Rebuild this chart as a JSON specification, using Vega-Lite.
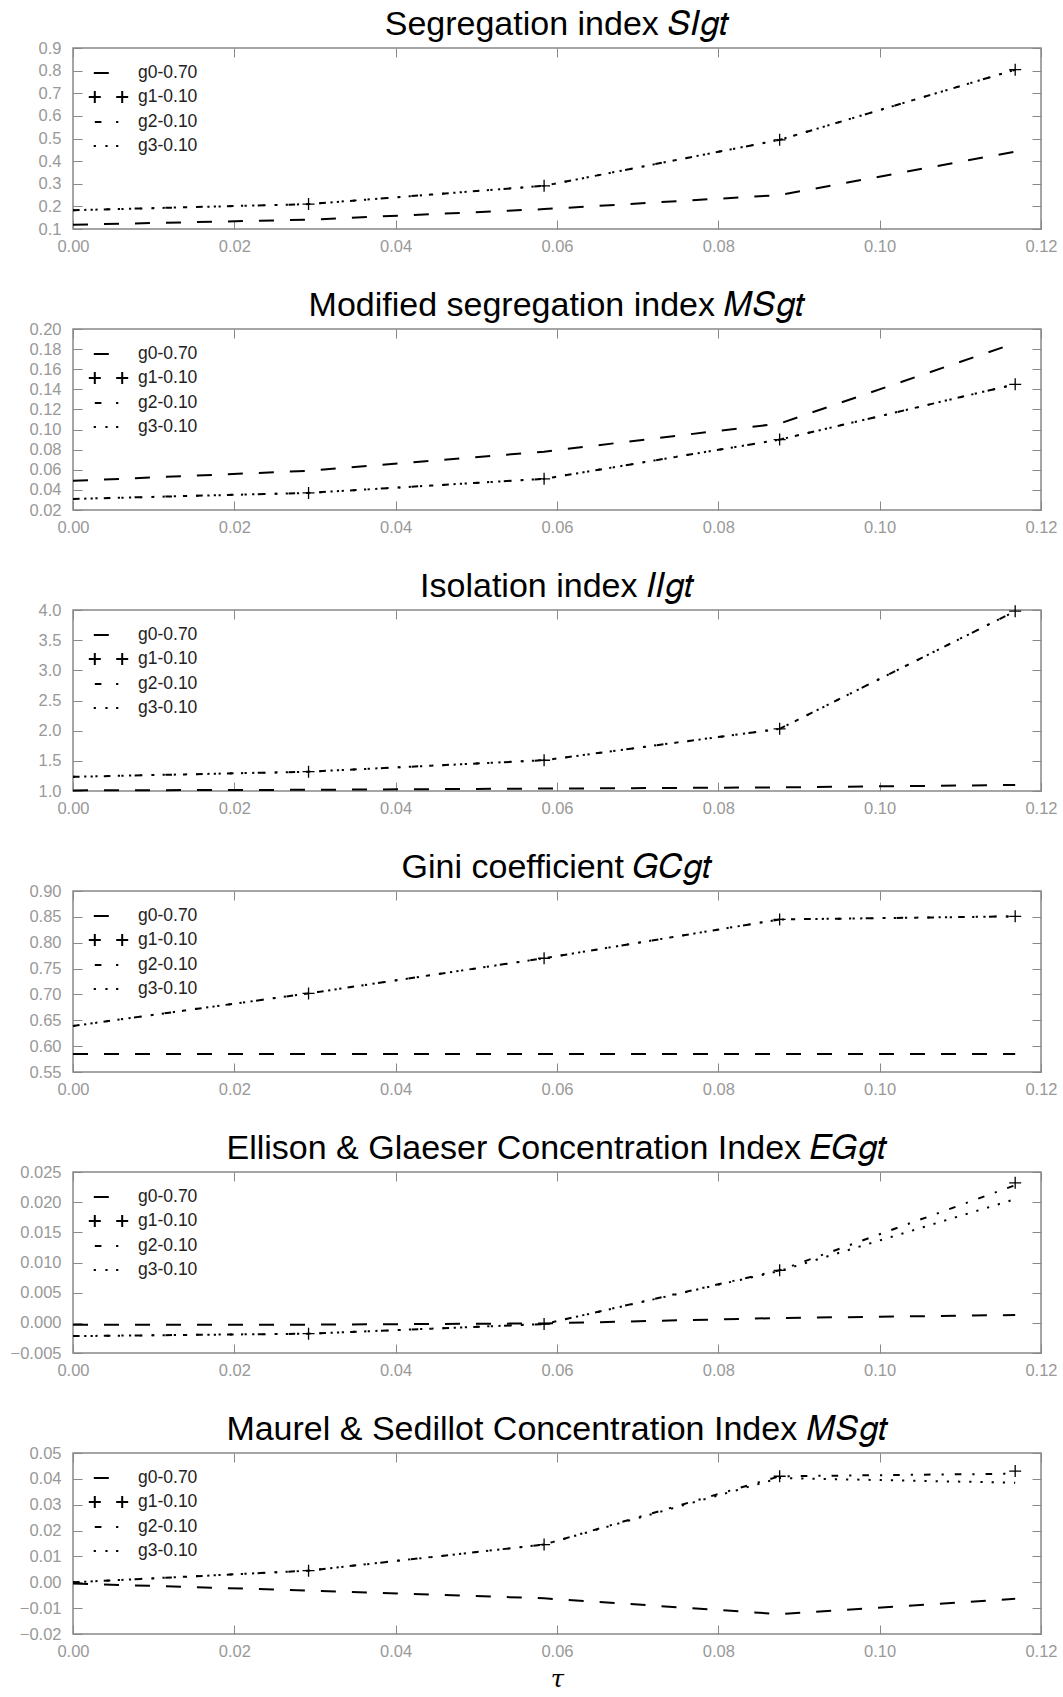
{
  "$schema": "https://vega.github.io/schema/vega-lite/v6.json",
  "padding": {"left": 9, "top": 7, "right": 5, "bottom": 2},
  "spacing": 32,
  "resolve": {"scale": {"strokeDash": "independent"}},
  "datasets": {
    "d": [
      {"p": "SI", "s": "g0-0.70", "t": 0, "v": 0.119}, {"p": "SI", "s": "g0-0.70", "t": 0.0292, "v": 0.141}, {"p": "SI", "s": "g0-0.70", "t": 0.0584, "v": 0.188}, {"p": "SI", "s": "g0-0.70", "t": 0.0876, "v": 0.25}, {"p": "SI", "s": "g0-0.70", "t": 0.1168, "v": 0.442},
      {"p": "SI", "s": "g1-0.10", "t": 0.0292, "v": 0.21}, {"p": "SI", "s": "g1-0.10", "t": 0.0584, "v": 0.291}, {"p": "SI", "s": "g1-0.10", "t": 0.0876, "v": 0.494}, {"p": "SI", "s": "g1-0.10", "t": 0.1168, "v": 0.804},
      {"p": "SI", "s": "g2-0.10", "t": 0, "v": 0.183}, {"p": "SI", "s": "g2-0.10", "t": 0.0292, "v": 0.21}, {"p": "SI", "s": "g2-0.10", "t": 0.0584, "v": 0.291}, {"p": "SI", "s": "g2-0.10", "t": 0.0876, "v": 0.494}, {"p": "SI", "s": "g2-0.10", "t": 0.1168, "v": 0.804},
      {"p": "SI", "s": "g3-0.10", "t": 0, "v": 0.183}, {"p": "SI", "s": "g3-0.10", "t": 0.0292, "v": 0.21}, {"p": "SI", "s": "g3-0.10", "t": 0.0584, "v": 0.291}, {"p": "SI", "s": "g3-0.10", "t": 0.0876, "v": 0.494}, {"p": "SI", "s": "g3-0.10", "t": 0.1168, "v": 0.804},

      {"p": "MS", "s": "g0-0.70", "t": 0, "v": 0.049}, {"p": "MS", "s": "g0-0.70", "t": 0.0292, "v": 0.059}, {"p": "MS", "s": "g0-0.70", "t": 0.0584, "v": 0.078}, {"p": "MS", "s": "g0-0.70", "t": 0.0876, "v": 0.106}, {"p": "MS", "s": "g0-0.70", "t": 0.1168, "v": 0.186},
      {"p": "MS", "s": "g1-0.10", "t": 0.0292, "v": 0.037}, {"p": "MS", "s": "g1-0.10", "t": 0.0584, "v": 0.051}, {"p": "MS", "s": "g1-0.10", "t": 0.0876, "v": 0.09}, {"p": "MS", "s": "g1-0.10", "t": 0.1168, "v": 0.145},
      {"p": "MS", "s": "g2-0.10", "t": 0, "v": 0.031}, {"p": "MS", "s": "g2-0.10", "t": 0.0292, "v": 0.037}, {"p": "MS", "s": "g2-0.10", "t": 0.0584, "v": 0.051}, {"p": "MS", "s": "g2-0.10", "t": 0.0876, "v": 0.09}, {"p": "MS", "s": "g2-0.10", "t": 0.1168, "v": 0.145},
      {"p": "MS", "s": "g3-0.10", "t": 0, "v": 0.031}, {"p": "MS", "s": "g3-0.10", "t": 0.0292, "v": 0.037}, {"p": "MS", "s": "g3-0.10", "t": 0.0584, "v": 0.051}, {"p": "MS", "s": "g3-0.10", "t": 0.0876, "v": 0.09}, {"p": "MS", "s": "g3-0.10", "t": 0.1168, "v": 0.145},

      {"p": "II", "s": "g0-0.70", "t": 0, "v": 1.01}, {"p": "II", "s": "g0-0.70", "t": 0.0292, "v": 1.02}, {"p": "II", "s": "g0-0.70", "t": 0.0584, "v": 1.04}, {"p": "II", "s": "g0-0.70", "t": 0.0876, "v": 1.06}, {"p": "II", "s": "g0-0.70", "t": 0.1168, "v": 1.1},
      {"p": "II", "s": "g1-0.10", "t": 0.0292, "v": 1.32}, {"p": "II", "s": "g1-0.10", "t": 0.0584, "v": 1.51}, {"p": "II", "s": "g1-0.10", "t": 0.0876, "v": 2.03}, {"p": "II", "s": "g1-0.10", "t": 0.1168, "v": 3.98},
      {"p": "II", "s": "g2-0.10", "t": 0, "v": 1.235}, {"p": "II", "s": "g2-0.10", "t": 0.0292, "v": 1.32}, {"p": "II", "s": "g2-0.10", "t": 0.0584, "v": 1.51}, {"p": "II", "s": "g2-0.10", "t": 0.0876, "v": 2.03}, {"p": "II", "s": "g2-0.10", "t": 0.1168, "v": 3.98},
      {"p": "II", "s": "g3-0.10", "t": 0, "v": 1.235}, {"p": "II", "s": "g3-0.10", "t": 0.0292, "v": 1.32}, {"p": "II", "s": "g3-0.10", "t": 0.0584, "v": 1.51}, {"p": "II", "s": "g3-0.10", "t": 0.0876, "v": 2.03}, {"p": "II", "s": "g3-0.10", "t": 0.1168, "v": 3.98},

      {"p": "GC", "s": "g0-0.70", "t": 0, "v": 0.585}, {"p": "GC", "s": "g0-0.70", "t": 0.0292, "v": 0.585}, {"p": "GC", "s": "g0-0.70", "t": 0.0584, "v": 0.585}, {"p": "GC", "s": "g0-0.70", "t": 0.0876, "v": 0.585}, {"p": "GC", "s": "g0-0.70", "t": 0.1168, "v": 0.585},
      {"p": "GC", "s": "g1-0.10", "t": 0.0292, "v": 0.702}, {"p": "GC", "s": "g1-0.10", "t": 0.0584, "v": 0.77}, {"p": "GC", "s": "g1-0.10", "t": 0.0876, "v": 0.845}, {"p": "GC", "s": "g1-0.10", "t": 0.1168, "v": 0.851},
      {"p": "GC", "s": "g2-0.10", "t": 0, "v": 0.639}, {"p": "GC", "s": "g2-0.10", "t": 0.0292, "v": 0.702}, {"p": "GC", "s": "g2-0.10", "t": 0.0584, "v": 0.77}, {"p": "GC", "s": "g2-0.10", "t": 0.0876, "v": 0.845}, {"p": "GC", "s": "g2-0.10", "t": 0.1168, "v": 0.851},
      {"p": "GC", "s": "g3-0.10", "t": 0, "v": 0.639}, {"p": "GC", "s": "g3-0.10", "t": 0.0292, "v": 0.702}, {"p": "GC", "s": "g3-0.10", "t": 0.0584, "v": 0.77}, {"p": "GC", "s": "g3-0.10", "t": 0.0876, "v": 0.845}, {"p": "GC", "s": "g3-0.10", "t": 0.1168, "v": 0.851},

      {"p": "EG", "s": "g0-0.70", "t": 0, "v": -0.0003}, {"p": "EG", "s": "g0-0.70", "t": 0.0292, "v": -0.0003}, {"p": "EG", "s": "g0-0.70", "t": 0.0584, "v": -0.0001}, {"p": "EG", "s": "g0-0.70", "t": 0.0876, "v": 0.0008}, {"p": "EG", "s": "g0-0.70", "t": 0.1168, "v": 0.0013},
      {"p": "EG", "s": "g1-0.10", "t": 0.0292, "v": -0.0018}, {"p": "EG", "s": "g1-0.10", "t": 0.0584, "v": -0.0002}, {"p": "EG", "s": "g1-0.10", "t": 0.0876, "v": 0.0087}, {"p": "EG", "s": "g1-0.10", "t": 0.1168, "v": 0.0232},
      {"p": "EG", "s": "g2-0.10", "t": 0, "v": -0.0022}, {"p": "EG", "s": "g2-0.10", "t": 0.0292, "v": -0.0018}, {"p": "EG", "s": "g2-0.10", "t": 0.0584, "v": -0.0002}, {"p": "EG", "s": "g2-0.10", "t": 0.0876, "v": 0.0087}, {"p": "EG", "s": "g2-0.10", "t": 0.1168, "v": 0.0228},
      {"p": "EG", "s": "g3-0.10", "t": 0, "v": -0.0022}, {"p": "EG", "s": "g3-0.10", "t": 0.0292, "v": -0.0018}, {"p": "EG", "s": "g3-0.10", "t": 0.0584, "v": -0.0002}, {"p": "EG", "s": "g3-0.10", "t": 0.0876, "v": 0.0086}, {"p": "EG", "s": "g3-0.10", "t": 0.1168, "v": 0.0205},

      {"p": "MSC", "s": "g0-0.70", "t": 0, "v": -0.0005}, {"p": "MSC", "s": "g0-0.70", "t": 0.0292, "v": -0.0032}, {"p": "MSC", "s": "g0-0.70", "t": 0.0584, "v": -0.0062}, {"p": "MSC", "s": "g0-0.70", "t": 0.0876, "v": -0.0123}, {"p": "MSC", "s": "g0-0.70", "t": 0.1168, "v": -0.0064},
      {"p": "MSC", "s": "g1-0.10", "t": 0.0292, "v": 0.0045}, {"p": "MSC", "s": "g1-0.10", "t": 0.0584, "v": 0.0146}, {"p": "MSC", "s": "g1-0.10", "t": 0.0876, "v": 0.041}, {"p": "MSC", "s": "g1-0.10", "t": 0.1168, "v": 0.043},
      {"p": "MSC", "s": "g2-0.10", "t": 0, "v": 0.0}, {"p": "MSC", "s": "g2-0.10", "t": 0.0292, "v": 0.0045}, {"p": "MSC", "s": "g2-0.10", "t": 0.0584, "v": 0.0146}, {"p": "MSC", "s": "g2-0.10", "t": 0.0876, "v": 0.041}, {"p": "MSC", "s": "g2-0.10", "t": 0.1168, "v": 0.042},
      {"p": "MSC", "s": "g3-0.10", "t": 0, "v": 0.0}, {"p": "MSC", "s": "g3-0.10", "t": 0.0292, "v": 0.0045}, {"p": "MSC", "s": "g3-0.10", "t": 0.0584, "v": 0.0146}, {"p": "MSC", "s": "g3-0.10", "t": 0.0876, "v": 0.0403}, {"p": "MSC", "s": "g3-0.10", "t": 0.1168, "v": 0.0385}
    ]
  },
  "data": {"name": "d"},
  "config": {
    "view": {"stroke": "#888", "strokeWidth": 1.5},
    "axis": {"grid": false, "domain": false, "tickColor": "#888", "tickSize": -9, "tickWidth": 1, "labelColor": "#999", "labelFont": "Liberation Sans", "labelFontSize": 16.5, "labelOverlap": false, "labelFlush": false, "labelBound": false, "title": null},
    "axisLeft": {"labelPadding": 21},
    "axisBottom": {"labelPadding": 18},
    "axisTop": {"labels": false},
    "axisRight": {"labels": false},
    "title": {"fontSize": 34, "font": "Liberation Sans", "fontWeight": "normal", "color": "#000", "offset": -2, "anchor": "middle"},
    "legend": {"orient": "top-left", "offset": 14, "padding": 0, "title": null, "symbolType": "stroke", "symbolSize": 400, "symbolStrokeWidth": 2, "symbolStrokeColor": "#000", "symbolFillColor": "transparent", "labelFont": "Liberation Sans", "labelFontSize": 17.5, "labelColor": "#222", "labelOffset": 29, "rowPadding": 4}
  },
  "vconcat": [
    {
      "width": 968, "height": 181,
      "title": "Segregation index 𝑆𝐼𝑔𝑡",
      "transform": [{"filter": "datum.p === 'SI'"}],
      "layer": [
        {
          "transform": [{"filter": "datum.s !== 'g1-0.10'"}],
          "mark": {"type": "line", "strokeWidth": 2, "color": "#000"},
          "encoding": {
            "x": {"field": "t", "type": "quantitative", "scale": {"domain": [0, 0.12], "nice": false, "zero": false}, "axis": {"orient": "bottom", "values": [0, 0.02, 0.04, 0.06, 0.08, 0.1, 0.12], "format": ".2f"}},
            "y": {"field": "v", "type": "quantitative", "scale": {"domain": [0.1, 0.9], "nice": false, "zero": false}, "axis": {"orient": "left", "values": [0.1, 0.2, 0.3, 0.4, 0.5, 0.6, 0.7, 0.8, 0.9], "format": ".1f"}},
            "strokeDash": {"field": "s", "type": "nominal", "scale": {"domain": ["g0-0.70", "g1-0.10", "g2-0.10", "g3-0.10"], "range": [[15, 16], [1, 0], [6.6, 11, 2.2, 11], [2.2, 9]]},
              "legend": {"encode": {"symbols": {"update": {"strokeDash": {"value": [1, 0]}, "shape": {"signal": "datum.value === 'g0-0.70' ? 'M-0.42,0H1.25' : datum.value === 'g1-0.10' ? 'M-0.92,0H0.28M-0.32,-0.6V0.6M1.82,0H3.02M2.42,-0.6V0.6' : datum.value === 'g2-0.10' ? 'M-0.32,0H0.35M1.81,0H2.03' : 'M-0.43,0H-0.21M0.74,0H0.96M1.81,0H2.03'"}}}}}}
          }
        },
        {
          "transform": [{"filter": "datum.s === 'g1-0.10'"}],
          "mark": {"type": "point", "shape": "M-1,0H1M0,-1V1", "size": 144, "filled": false, "stroke": "#000", "strokeWidth": 1.3, "opacity": 1},
          "encoding": {
            "x": {"field": "t", "type": "quantitative", "axis": {"orient": "top", "values": [0, 0.02, 0.04, 0.06, 0.08, 0.1, 0.12]}},
            "y": {"field": "v", "type": "quantitative", "axis": {"orient": "right", "values": [0.1, 0.2, 0.3, 0.4, 0.5, 0.6, 0.7, 0.8, 0.9]}}
          }
        }
      ]
    },
    {
      "width": 968, "height": 181,
      "title": "Modified segregation index 𝑀𝑆𝑔𝑡",
      "transform": [{"filter": "datum.p === 'MS'"}],
      "layer": [
        {
          "transform": [{"filter": "datum.s !== 'g1-0.10'"}],
          "mark": {"type": "line", "strokeWidth": 2, "color": "#000"},
          "encoding": {
            "x": {"field": "t", "type": "quantitative", "scale": {"domain": [0, 0.12], "nice": false, "zero": false}, "axis": {"orient": "bottom", "values": [0, 0.02, 0.04, 0.06, 0.08, 0.1, 0.12], "format": ".2f"}},
            "y": {"field": "v", "type": "quantitative", "scale": {"domain": [0.02, 0.2], "nice": false, "zero": false}, "axis": {"orient": "left", "values": [0.02, 0.04, 0.06, 0.08, 0.1, 0.12, 0.14, 0.16, 0.18, 0.2], "format": ".2f"}},
            "strokeDash": {"field": "s", "type": "nominal", "scale": {"domain": ["g0-0.70", "g1-0.10", "g2-0.10", "g3-0.10"], "range": [[15, 16], [1, 0], [6.6, 11, 2.2, 11], [2.2, 9]]},
              "legend": {"encode": {"symbols": {"update": {"strokeDash": {"value": [1, 0]}, "shape": {"signal": "datum.value === 'g0-0.70' ? 'M-0.42,0H1.25' : datum.value === 'g1-0.10' ? 'M-0.92,0H0.28M-0.32,-0.6V0.6M1.82,0H3.02M2.42,-0.6V0.6' : datum.value === 'g2-0.10' ? 'M-0.32,0H0.35M1.81,0H2.03' : 'M-0.43,0H-0.21M0.74,0H0.96M1.81,0H2.03'"}}}}}}
          }
        },
        {
          "transform": [{"filter": "datum.s === 'g1-0.10'"}],
          "mark": {"type": "point", "shape": "M-1,0H1M0,-1V1", "size": 144, "filled": false, "stroke": "#000", "strokeWidth": 1.3, "opacity": 1},
          "encoding": {
            "x": {"field": "t", "type": "quantitative", "axis": {"orient": "top", "values": [0, 0.02, 0.04, 0.06, 0.08, 0.1, 0.12]}},
            "y": {"field": "v", "type": "quantitative", "axis": {"orient": "right", "values": [0.02, 0.04, 0.06, 0.08, 0.1, 0.12, 0.14, 0.16, 0.18, 0.2]}}
          }
        }
      ]
    },
    {
      "width": 968, "height": 181,
      "title": "Isolation index 𝐼𝐼𝑔𝑡",
      "transform": [{"filter": "datum.p === 'II'"}],
      "layer": [
        {
          "transform": [{"filter": "datum.s !== 'g1-0.10'"}],
          "mark": {"type": "line", "strokeWidth": 2, "color": "#000"},
          "encoding": {
            "x": {"field": "t", "type": "quantitative", "scale": {"domain": [0, 0.12], "nice": false, "zero": false}, "axis": {"orient": "bottom", "values": [0, 0.02, 0.04, 0.06, 0.08, 0.1, 0.12], "format": ".2f"}},
            "y": {"field": "v", "type": "quantitative", "scale": {"domain": [1, 4], "nice": false, "zero": false}, "axis": {"orient": "left", "values": [1, 1.5, 2, 2.5, 3, 3.5, 4], "format": ".1f"}},
            "strokeDash": {"field": "s", "type": "nominal", "scale": {"domain": ["g0-0.70", "g1-0.10", "g2-0.10", "g3-0.10"], "range": [[15, 16], [1, 0], [6.6, 11, 2.2, 11], [2.2, 9]]},
              "legend": {"encode": {"symbols": {"update": {"strokeDash": {"value": [1, 0]}, "shape": {"signal": "datum.value === 'g0-0.70' ? 'M-0.42,0H1.25' : datum.value === 'g1-0.10' ? 'M-0.92,0H0.28M-0.32,-0.6V0.6M1.82,0H3.02M2.42,-0.6V0.6' : datum.value === 'g2-0.10' ? 'M-0.32,0H0.35M1.81,0H2.03' : 'M-0.43,0H-0.21M0.74,0H0.96M1.81,0H2.03'"}}}}}}
          }
        },
        {
          "transform": [{"filter": "datum.s === 'g1-0.10'"}],
          "mark": {"type": "point", "shape": "M-1,0H1M0,-1V1", "size": 144, "filled": false, "stroke": "#000", "strokeWidth": 1.3, "opacity": 1},
          "encoding": {
            "x": {"field": "t", "type": "quantitative", "axis": {"orient": "top", "values": [0, 0.02, 0.04, 0.06, 0.08, 0.1, 0.12]}},
            "y": {"field": "v", "type": "quantitative", "axis": {"orient": "right", "values": [1, 1.5, 2, 2.5, 3, 3.5, 4]}}
          }
        }
      ]
    },
    {
      "width": 968, "height": 181,
      "title": "Gini coefficient 𝐺𝐶𝑔𝑡",
      "transform": [{"filter": "datum.p === 'GC'"}],
      "layer": [
        {
          "transform": [{"filter": "datum.s !== 'g1-0.10'"}],
          "mark": {"type": "line", "strokeWidth": 2, "color": "#000"},
          "encoding": {
            "x": {"field": "t", "type": "quantitative", "scale": {"domain": [0, 0.12], "nice": false, "zero": false}, "axis": {"orient": "bottom", "values": [0, 0.02, 0.04, 0.06, 0.08, 0.1, 0.12], "format": ".2f"}},
            "y": {"field": "v", "type": "quantitative", "scale": {"domain": [0.55, 0.9], "nice": false, "zero": false}, "axis": {"orient": "left", "values": [0.55, 0.6, 0.65, 0.7, 0.75, 0.8, 0.85, 0.9], "format": ".2f"}},
            "strokeDash": {"field": "s", "type": "nominal", "scale": {"domain": ["g0-0.70", "g1-0.10", "g2-0.10", "g3-0.10"], "range": [[15, 16], [1, 0], [6.6, 11, 2.2, 11], [2.2, 9]]},
              "legend": {"encode": {"symbols": {"update": {"strokeDash": {"value": [1, 0]}, "shape": {"signal": "datum.value === 'g0-0.70' ? 'M-0.42,0H1.25' : datum.value === 'g1-0.10' ? 'M-0.92,0H0.28M-0.32,-0.6V0.6M1.82,0H3.02M2.42,-0.6V0.6' : datum.value === 'g2-0.10' ? 'M-0.32,0H0.35M1.81,0H2.03' : 'M-0.43,0H-0.21M0.74,0H0.96M1.81,0H2.03'"}}}}}}
          }
        },
        {
          "transform": [{"filter": "datum.s === 'g1-0.10'"}],
          "mark": {"type": "point", "shape": "M-1,0H1M0,-1V1", "size": 144, "filled": false, "stroke": "#000", "strokeWidth": 1.3, "opacity": 1},
          "encoding": {
            "x": {"field": "t", "type": "quantitative", "axis": {"orient": "top", "values": [0, 0.02, 0.04, 0.06, 0.08, 0.1, 0.12]}},
            "y": {"field": "v", "type": "quantitative", "axis": {"orient": "right", "values": [0.55, 0.6, 0.65, 0.7, 0.75, 0.8, 0.85, 0.9]}}
          }
        }
      ]
    },
    {
      "width": 968, "height": 181,
      "title": "Ellison & Glaeser Concentration Index 𝐸𝐺𝑔𝑡",
      "transform": [{"filter": "datum.p === 'EG'"}],
      "layer": [
        {
          "transform": [{"filter": "datum.s !== 'g1-0.10'"}],
          "mark": {"type": "line", "strokeWidth": 2, "color": "#000"},
          "encoding": {
            "x": {"field": "t", "type": "quantitative", "scale": {"domain": [0, 0.12], "nice": false, "zero": false}, "axis": {"orient": "bottom", "values": [0, 0.02, 0.04, 0.06, 0.08, 0.1, 0.12], "format": ".2f"}},
            "y": {"field": "v", "type": "quantitative", "scale": {"domain": [-0.005, 0.025], "nice": false, "zero": false}, "axis": {"orient": "left", "values": [-0.005, 0, 0.005, 0.01, 0.015, 0.02, 0.025], "format": ".3f"}},
            "strokeDash": {"field": "s", "type": "nominal", "scale": {"domain": ["g0-0.70", "g1-0.10", "g2-0.10", "g3-0.10"], "range": [[15, 16], [1, 0], [6.6, 11, 2.2, 11], [2.2, 9]]},
              "legend": {"encode": {"symbols": {"update": {"strokeDash": {"value": [1, 0]}, "shape": {"signal": "datum.value === 'g0-0.70' ? 'M-0.42,0H1.25' : datum.value === 'g1-0.10' ? 'M-0.92,0H0.28M-0.32,-0.6V0.6M1.82,0H3.02M2.42,-0.6V0.6' : datum.value === 'g2-0.10' ? 'M-0.32,0H0.35M1.81,0H2.03' : 'M-0.43,0H-0.21M0.74,0H0.96M1.81,0H2.03'"}}}}}}
          }
        },
        {
          "transform": [{"filter": "datum.s === 'g1-0.10'"}],
          "mark": {"type": "point", "shape": "M-1,0H1M0,-1V1", "size": 144, "filled": false, "stroke": "#000", "strokeWidth": 1.3, "opacity": 1},
          "encoding": {
            "x": {"field": "t", "type": "quantitative", "axis": {"orient": "top", "values": [0, 0.02, 0.04, 0.06, 0.08, 0.1, 0.12]}},
            "y": {"field": "v", "type": "quantitative", "axis": {"orient": "right", "values": [-0.005, 0, 0.005, 0.01, 0.015, 0.02, 0.025]}}
          }
        }
      ]
    },
    {
      "width": 968, "height": 181,
      "title": "Maurel & Sedillot Concentration Index 𝑀𝑆𝑔𝑡",
      "transform": [{"filter": "datum.p === 'MSC'"}],
      "layer": [
        {
          "transform": [{"filter": "datum.s !== 'g1-0.10'"}],
          "mark": {"type": "line", "strokeWidth": 2, "color": "#000"},
          "encoding": {
            "x": {"field": "t", "type": "quantitative", "scale": {"domain": [0, 0.12], "nice": false, "zero": false}, "axis": {"orient": "bottom", "values": [0, 0.02, 0.04, 0.06, 0.08, 0.1, 0.12], "format": ".2f", "title": "τ", "titleFont": "DejaVu Serif", "titleFontStyle": "italic", "titleFontWeight": "normal", "titleFontSize": 24, "titleColor": "#000", "titlePadding": 8}},
            "y": {"field": "v", "type": "quantitative", "scale": {"domain": [-0.02, 0.05], "nice": false, "zero": false}, "axis": {"orient": "left", "values": [-0.02, -0.01, 0, 0.01, 0.02, 0.03, 0.04, 0.05], "format": ".2f"}},
            "strokeDash": {"field": "s", "type": "nominal", "scale": {"domain": ["g0-0.70", "g1-0.10", "g2-0.10", "g3-0.10"], "range": [[15, 16], [1, 0], [6.6, 11, 2.2, 11], [2.2, 9]]},
              "legend": {"encode": {"symbols": {"update": {"strokeDash": {"value": [1, 0]}, "shape": {"signal": "datum.value === 'g0-0.70' ? 'M-0.42,0H1.25' : datum.value === 'g1-0.10' ? 'M-0.92,0H0.28M-0.32,-0.6V0.6M1.82,0H3.02M2.42,-0.6V0.6' : datum.value === 'g2-0.10' ? 'M-0.32,0H0.35M1.81,0H2.03' : 'M-0.43,0H-0.21M0.74,0H0.96M1.81,0H2.03'"}}}}}}
          }
        },
        {
          "transform": [{"filter": "datum.s === 'g1-0.10'"}],
          "mark": {"type": "point", "shape": "M-1,0H1M0,-1V1", "size": 144, "filled": false, "stroke": "#000", "strokeWidth": 1.3, "opacity": 1},
          "encoding": {
            "x": {"field": "t", "type": "quantitative", "axis": {"orient": "top", "values": [0, 0.02, 0.04, 0.06, 0.08, 0.1, 0.12]}},
            "y": {"field": "v", "type": "quantitative", "axis": {"orient": "right", "values": [-0.02, -0.01, 0, 0.01, 0.02, 0.03, 0.04, 0.05]}}
          }
        }
      ]
    }
  ]
}
